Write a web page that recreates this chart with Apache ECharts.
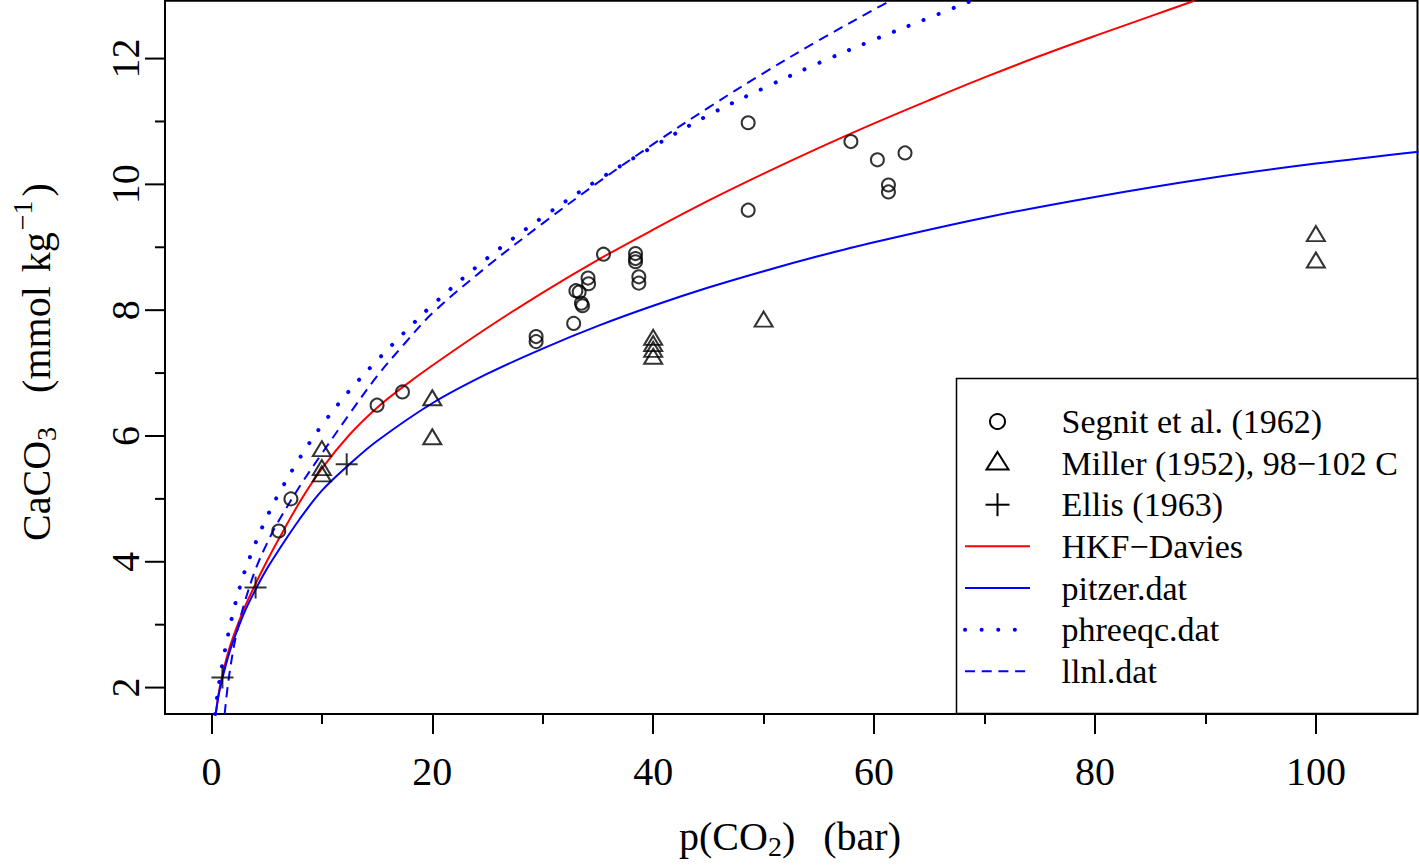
<!DOCTYPE html>
<html>
<head>
<meta charset="utf-8">
<script src="https://cdn.jsdelivr.net/npm/echarts@6/dist/echarts.min.js"></script>
<style>
  html, body { margin: 0; padding: 0; background: #fff; }
  #chart { width: 1419px; height: 866px; }
</style>
</head>
<body>
<div id="chart"></div>
<script>
// Segnit et al. (1962)
var segnitP = [6.1, 7.2, 15.0, 17.3, 29.4, 29.4, 32.8, 33.0, 33.3, 33.5, 33.6, 34.1, 34.15, 35.5, 38.4, 38.4, 38.4, 38.7, 38.7, 48.6, 48.6, 57.9, 60.3, 62.8, 61.3, 61.3];
var segnitC = [4.49, 5.0, 6.49, 6.70, 7.58, 7.50, 7.79, 8.31, 8.29, 8.11, 8.07, 8.51, 8.42, 8.89, 8.90, 8.82, 8.77, 8.53, 8.43, 10.98, 9.59, 10.68, 10.39, 10.50, 9.99, 9.88];
// Miller (1952), 98-102 C
var millerP = [10, 10, 10, 20, 20, 40, 40, 40, 40, 50, 100, 100];
var millerC = [5.75, 5.45, 5.35, 6.56, 5.94, 7.52, 7.42, 7.33, 7.22, 7.81, 9.17, 8.75];
// Ellis (1963)
var ellisP = [1.0, 4.0, 12.25];
var ellisC = [2.16, 3.59, 5.55];

// model curves
var hkfP = [0.4, 0.7, 1, 1.5, 2, 3, 4, 5, 6, 8, 10, 12.5, 15, 17.5, 20, 25, 30, 35, 40, 45, 50, 55, 60, 65, 70, 75, 80, 85, 89];
var hkfC = [1.58, 1.95, 2.2, 2.55, 2.82, 3.27, 3.65, 4.0, 4.33, 4.95, 5.48, 6.02, 6.45, 6.8, 7.12, 7.72, 8.28, 8.8, 9.28, 9.74, 10.17, 10.58, 10.97, 11.34, 11.7, 12.04, 12.36, 12.67, 12.92];
var pitzerP = [0.4, 0.7, 1, 1.5, 2, 3, 4, 5, 6, 8, 10, 12.5, 15, 20, 25, 30, 35, 40, 45, 50, 55, 60, 70, 80, 90, 100, 109.3];
var pitzerC = [1.6, 1.92, 2.15, 2.48, 2.75, 3.2, 3.56, 3.88, 4.16, 4.68, 5.13, 5.55, 5.92, 6.52, 6.99, 7.39, 7.75, 8.07, 8.36, 8.62, 8.86, 9.08, 9.47, 9.8, 10.09, 10.33, 10.52];
var phreeqcP = [0.35, 0.5, 0.75, 1, 1.5, 2, 2.5, 3, 4, 5, 6, 8, 10, 12.5, 15, 17.5, 20, 25, 30, 35, 40, 45, 50, 55, 60, 65, 69];
var phreeqcC = [1.58, 1.82, 2.13, 2.38, 2.83, 3.22, 3.55, 3.84, 4.3, 4.7, 5.05, 5.65, 6.17, 6.72, 7.2, 7.65, 8.08, 8.83, 9.48, 10.07, 10.6, 11.1, 11.53, 11.93, 12.3, 12.65, 12.93];
var llnlP = [1.2, 1.5, 2, 2.5, 3, 4, 5, 6, 8, 10, 12.5, 15, 17.5, 20, 25, 30, 35, 40, 45, 50, 55, 60, 61.7];
var llnlC = [1.58, 2.05, 2.62, 3.02, 3.35, 3.88, 4.28, 4.62, 5.2, 5.72, 6.35, 6.95, 7.47, 7.95, 8.7, 9.38, 10.03, 10.64, 11.22, 11.77, 12.29, 12.78, 12.94];

// ticks
var xMajor = [0, 20, 40, 60, 80, 100];
var xMinor = [10, 30, 50, 70, 90];
var yMajor = [2, 4, 6, 8, 10, 12];
var yMinor = [3, 5, 7, 9, 11];

var legendNames = ['Segnit et al. (1962)', 'Miller (1952), 98\u2212102 C', 'Ellis (1963)', 'HKF\u2212Davies', 'pitzer.dat', 'phreeqc.dat', 'llnl.dat'];

var FONT = '"Liberation Serif", "Times New Roman", serif';
var RED = '#ff0000', BLUE = '#0000ff';
var GRID_LEFT = 165, GRID_TOP = 0.7, GRID_RIGHT = 1.5, GRID_BOTTOM = 152;
var Y_MIN = 1.58, Y_MAX = 12.92;

function pairs(xs, ys) {
  return xs.map(function (x, i) { return [x, ys[i]]; });
}

var measureCtx = document.createElement('canvas').getContext('2d');
function textWidth(str, size) {
  measureCtx.font = size + 'px "Liberation Serif"';
  return measureCtx.measureText(str).width;
}
// lay out pieces of a label (with sub/superscripts) centred on 0
function buildPieces(parts) {
  var total = 0;
  parts.forEach(function (p) {
    p.w = p.gap != null ? p.gap : textWidth(p.text, p.size);
    total += p.w;
  });
  var x = -total / 2, out = [];
  parts.forEach(function (p) {
    if (p.gap == null) {
      out.push({
        type: 'text', x: x, y: p.dy || 0,
        style: { text: p.text, fontSize: p.size, fontFamily: FONT, fill: '#000',
                 align: 'left', verticalAlign: 'middle', textAlign: 'left', textVerticalAlign: 'middle' }
      });
    }
    x += p.w;
  });
  return out;
}

var chart = echarts.init(document.getElementById('chart'), null, { renderer: 'svg' });

var tickStyle = { color: '#000', width: 2 };
function makeAxis(min, max, major, minor, isY) {
  var base = {
    type: 'value', min: min, max: max, scale: true,
    axisLine: { show: false, onZero: false }, splitLine: { show: false }
  };
  var a = Object.assign({}, base, {
    axisTick: { show: !isY, customValues: major, length: 20, lineStyle: tickStyle },
    axisLabel: {
      show: true, customValues: major, color: '#000', fontFamily: FONT, fontSize: 40,
      margin: isY ? 40 : 57, verticalAlign: 'middle', align: 'center', rotate: isY ? 90 : 0
    }
  });
  var b = Object.assign({}, base, {
    axisTick: { show: !isY, customValues: minor, length: 10, lineStyle: tickStyle },
    axisLabel: { show: false }
  });
  return [a, b];
}

var xAxes = makeAxis(-4.2, 109.2, xMajor, xMinor, false);
var yAxes = makeAxis(Y_MIN, Y_MAX, yMajor, yMinor, true);
xAxes.forEach(function (a) { a.position = 'bottom'; });
yAxes.forEach(function (a) { a.position = 'left'; });

function lineSeries(name, xs, ys, color, type, width, cap) {
  return {
    name: name, type: 'line', data: pairs(xs, ys),
    showSymbol: false, symbol: 'none', smooth: 0.35,
    lineStyle: { color: color, width: width, type: type, cap: cap || 'butt' },
    z: 3
  };
}

chart.setOption({
  animation: false,
  backgroundColor: '#fff',
  grid: { left: GRID_LEFT, top: GRID_TOP, right: GRID_RIGHT, bottom: GRID_BOTTOM, show: true, borderColor: '#000', borderWidth: 2, backgroundColor: 'transparent' },
  xAxis: xAxes,
  yAxis: yAxes,
  series: [
    {
      name: legendNames[0], type: 'scatter', data: pairs(segnitP, segnitC),
      symbol: 'circle', symbolSize: 13,
      itemStyle: { color: 'rgba(0,0,0,0)', borderColor: '#000', borderWidth: 2 }, z: 4
    },
    {
      name: legendNames[1], type: 'scatter', data: pairs(millerP, millerC),
      symbol: 'triangle', symbolSize: [18, 15], symbolOffset: [0, -3],
      itemStyle: { color: 'rgba(0,0,0,0)', borderColor: '#000', borderWidth: 2 }, z: 4
    },
    {
      name: legendNames[2], type: 'scatter', data: pairs(ellisP, ellisC),
      symbol: 'path://M10,0 L10,20 M0,10 L20,10', symbolSize: 22,
      itemStyle: { color: 'rgba(0,0,0,0)', borderColor: '#000', borderWidth: 2 }, z: 4
    },
    lineSeries(legendNames[3], hkfP, hkfC, RED, 'solid', 2),
    lineSeries(legendNames[4], pitzerP, pitzerC, BLUE, 'solid', 2),
    lineSeries(legendNames[5], phreeqcP, phreeqcC, BLUE, [0.1, 16], 4, 'round'),
    lineSeries(legendNames[6], llnlP, llnlC, BLUE, [10, 6.7], 2)
  ]
});

// y-axis tick marks, placed through the y scale
var plotH = 866 - GRID_TOP - GRID_BOTTOM;
function yPixel(v) {
  var py = chart.convertToPixel({ yAxisIndex: 0 }, v);
  if (Array.isArray(py)) py = py[1];
  if (!isFinite(py)) py = GRID_TOP + (Y_MAX - v) / (Y_MAX - Y_MIN) * plotH;
  return py;
}
var yTickEls = [];
yMajor.forEach(function (v) {
  var py = yPixel(v);
  yTickEls.push({ type: 'rect', shape: { x: GRID_LEFT - 20, y: py - 1, width: 20, height: 2 }, style: { fill: '#000' } });
});
yMinor.forEach(function (v) {
  var py = yPixel(v);
  yTickEls.push({ type: 'rect', shape: { x: GRID_LEFT - 10, y: py - 1, width: 10, height: 2 }, style: { fill: '#000' } });
});

// legend drawn in the style of an R legend box
var lgLeft = 956.5, lgTop = 378.5, lgRight = 1417.5, lgBottom = 713.5;
var rowY = [421.5, 463, 504.7, 546.3, 588, 629.7, 671.3];
var symX = 997.5, lineX0 = 965, lineX1 = 1030, textX = 1061.5;
var legendEls = [{
  type: 'rect', shape: { x: lgLeft, y: lgTop, width: lgRight - lgLeft, height: lgBottom - lgTop },
  style: { fill: '#fff', stroke: '#000', lineWidth: 1.5 }
}];
legendEls.push({ type: 'circle', shape: { cx: symX, cy: rowY[0], r: 7.5 },
  style: { fill: 'none', stroke: '#000', lineWidth: 2 } });
legendEls.push({ type: 'polygon', shape: { points: [[symX, rowY[1] - 11], [symX + 11, rowY[1] + 6.5], [symX - 11, rowY[1] + 6.5]] },
  style: { fill: 'none', stroke: '#000', lineWidth: 2 } });
legendEls.push({ type: 'line', shape: { x1: symX - 12, y1: rowY[2], x2: symX + 12, y2: rowY[2] }, style: { stroke: '#000', lineWidth: 2 } });
legendEls.push({ type: 'line', shape: { x1: symX, y1: rowY[2] - 11.5, x2: symX, y2: rowY[2] + 11.5 }, style: { stroke: '#000', lineWidth: 2 } });
legendEls.push({ type: 'line', shape: { x1: lineX0, y1: rowY[3], x2: lineX1, y2: rowY[3] }, style: { stroke: RED, lineWidth: 2 } });
legendEls.push({ type: 'line', shape: { x1: lineX0, y1: rowY[4], x2: lineX1, y2: rowY[4] }, style: { stroke: BLUE, lineWidth: 2 } });
legendEls.push({ type: 'line', shape: { x1: lineX0, y1: rowY[5], x2: lineX1, y2: rowY[5] },
  style: { stroke: BLUE, lineWidth: 4, lineDash: [0.1, 16.5], lineCap: 'round' } });
legendEls.push({ type: 'line', shape: { x1: lineX0, y1: rowY[6], x2: lineX1, y2: rowY[6] },
  style: { stroke: BLUE, lineWidth: 2, lineDash: [10, 6.7] } });
legendNames.forEach(function (name, i) {
  legendEls.push({ type: 'text', x: textX, y: rowY[i],
    style: { text: name, fontSize: 34, fontFamily: FONT, fill: '#000', align: 'left', verticalAlign: 'middle',
             textAlign: 'left', textVerticalAlign: 'middle' } });
});

var xTitle = buildPieces([
  { text: 'p(CO', size: 40 }, { text: '2', size: 28, dy: 10 }, { text: ')', size: 40 },
  { gap: 28 }, { text: '(bar)', size: 40 }
]);
var yTitle = buildPieces([
  { text: 'CaCO', size: 40 }, { text: '3', size: 28, dy: 10 },
  { gap: 34 }, { text: '(mmol', size: 40 }, { gap: 14 }, { text: 'kg', size: 40 }, { gap: 2 },
  { text: '\u22121', size: 28, dy: -14 }, { gap: 4 }, { text: ')', size: 40 }
]);

chart.setOption({
  graphic: [
    { id: 'yticks', type: 'group', z: 50, children: yTickEls },
    { id: 'legend', type: 'group', z: 100, children: legendEls },
    { id: 'xtitle', type: 'group', x: 790, y: 836, children: xTitle },
    { id: 'ytitle', type: 'group', x: 36, y: 362, rotation: Math.PI / 2, children: yTitle }
  ]
});
</script>
</body>
</html>
